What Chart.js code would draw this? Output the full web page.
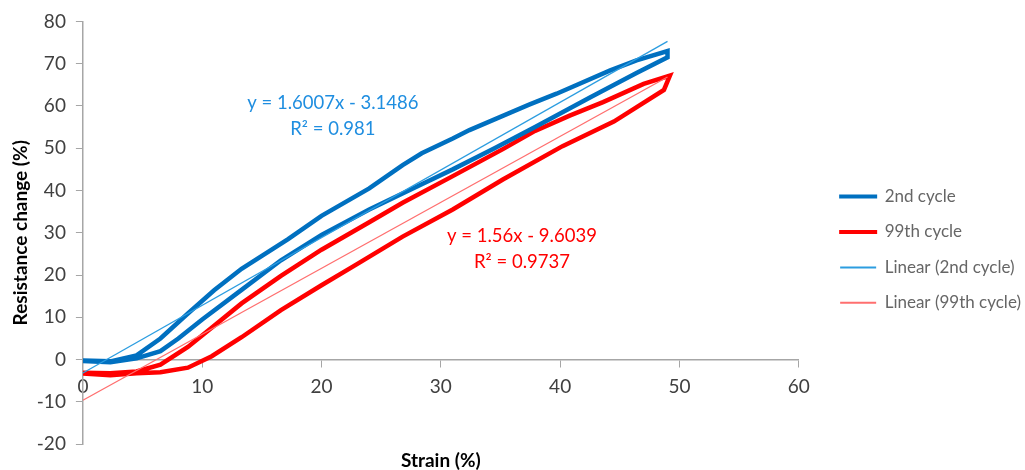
<!DOCTYPE html>
<html>
<head>
<meta charset="utf-8">
<script src="https://cdn.jsdelivr.net/npm/chart.js@4"></script>
<style>
  html, body { margin: 0; padding: 0; background: #fff; }
  #wrap { width: 1025px; height: 470px; }
</style>
</head>
<body>
<div id="wrap"><canvas id="myChart" width="1025" height="470"></canvas></div>
<script>
// 2nd cycle, loading branch then unloading branch (strain %, resistance change %)
const cycle2X = [0, 2.3, 4.5, 6.5, 8, 10, 13.3, 16.6, 20, 24, 28.4, 31, 34.5, 37.9, 42.5, 46.4, 49,
                 49, 46.4, 44.2, 39.7, 37.4, 32.4, 31, 28.4, 26.8, 24, 20, 17.2, 13.3, 11, 8.8, 6.5, 4.5, 2.3, 0];
const cycle2Y = [-0.3, -0.6, 0.3, 2, 5, 9.5, 16.5, 23.5, 29.5, 35.5, 41.5, 45, 50, 55, 62, 67.8, 71.5,
                 73, 70.8, 68.4, 62.9, 60.3, 54.3, 52.3, 48.8, 46, 40.5, 34, 28.5, 21.5, 16.4, 10.9, 5, 1, -0.4, -0.2];

// 99th cycle
const cycle99X = [0, 2.3, 4.5, 6.5, 8.8, 10.8, 13.3, 16.6, 20, 22.8, 26.8, 31, 35.2, 40.2, 44.5, 48.7, 49.2,
                  47, 43.6, 40.8, 37.9, 35.2, 31, 26.8, 24, 20, 16.6, 13.3, 11, 8.8, 6.5, 4.5, 2.3, 0];
const cycle99Y = [-3.3, -3.7, -3.2, -3, -1.9, 0.8, 5.3, 11.7, 17.6, 22.3, 29.1, 35.5, 42.6, 50.5, 56.3, 63.8, 67.2,
                  65.2, 60.9, 57.7, 54.1, 49.8, 43.4, 37.1, 32.5, 26, 19.8, 13.3, 8, 3, -1.2, -2.8, -3.2, -3.1];

// trendline end points (as drawn)
const trend2X = [0, 49];
const trend2Y = [-3.15, 75.29];
const trend99X = [0, 49];
const trend99Y = [-9.6, 66.84];

const seriesNames = ["2nd cycle", "99th cycle", "Linear (2nd cycle)", "Linear (99th cycle)"];
const eq2Text = ["y = 1.6007x - 3.1486", "R\u00b2 = 0.981"];
const eq99Text = ["y = 1.56x - 9.6039", "R\u00b2 = 0.9737"];

const xTicks = [0, 10, 20, 30, 40, 50, 60];
const yTicks = [-20, -10, 0, 10, 20, 30, 40, 50, 60, 70, 80];

function toPoints(xs, ys) {
    return xs.map((x, i) => ({x: x, y: ys[i]}));
}

const FONT = "Lato, 'Open Sans', sans-serif";

const equationLabels = {
    id: "equationLabels",
    afterDatasetsDraw(chart) {
        const ctx = chart.ctx;
        const xs = chart.scales.x;
        const ys = chart.scales.y;
        const blocks = [
            {lines: eq2Text, x: 20.95, y: 60.8, color: "#1f8ee0"},
            {lines: eq99Text, x: 36.8, y: 29.3, color: "#ff0000"}
        ];
        ctx.save();
        ctx.font = "18.5px " + FONT;
        ctx.textAlign = "center";
        ctx.textBaseline = "middle";
        blocks.forEach(b => {
            const px = xs.getPixelForValue(b.x);
            const py = ys.getPixelForValue(b.y);
            ctx.fillStyle = b.color;
            ctx.fillText(b.lines[0], px, py);
            ctx.fillText(b.lines[1], px, py + 26);
        });
        ctx.restore();
    }
};

new Chart("myChart", {
    type: "scatter",
    data: {
        datasets: [{
            label: seriesNames[0],
            data: toPoints(cycle2X, cycle2Y),
            borderColor: "#0070c0",
            backgroundColor: "#0070c0",
            borderWidth: 4.5,
            showLine: true,
            pointRadius: 0,
            fill: false,
            order: 3
        },{
            label: seriesNames[1],
            data: toPoints(cycle99X, cycle99Y),
            borderColor: "#ff0000",
            backgroundColor: "#ff0000",
            borderWidth: 4.5,
            showLine: true,
            pointRadius: 0,
            fill: false,
            order: 4
        },{
            label: seriesNames[2],
            data: toPoints(trend2X, trend2Y),
            borderColor: "#2c9de0",
            backgroundColor: "#2c9de0",
            borderWidth: 1.3,
            showLine: true,
            pointRadius: 0,
            fill: false,
            order: 1
        },{
            label: seriesNames[3],
            data: toPoints(trend99X, trend99Y),
            borderColor: "#ff6f6f",
            backgroundColor: "#ff6f6f",
            borderWidth: 1.3,
            showLine: true,
            pointRadius: 0,
            fill: false,
            order: 2
        }]
    },
    options: {
        responsive: false,
        animation: false,
        layout: {padding: {top: 21, left: 8, right: -6, bottom: 0}},
        scales: {
            x: {
                type: "linear",
                min: 0, max: 60,
                position: {y: 0},
                afterBuildTicks: (s) => { s.ticks = xTicks.map(v => ({value: v})); },
                grid: {drawOnChartArea: false, tickLength: 7, color: "#a6a6a6"},
                border: {color: "#a6a6a6", width: 1.5},
                ticks: {color: "#404040", font: {family: FONT, size: 19}, padding: 9, maxRotation: 0}
            },
            xTitle: {
                type: "linear",
                axis: "x",
                position: "bottom",
                min: 0, max: 60,
                grid: {display: false},
                border: {display: false},
                ticks: {display: false},
                title: {display: true, text: "Strain (%)", color: "#000",
                        font: {family: FONT, size: 19, weight: "bold"}, padding: {top: -3, bottom: -2}}
            },
            y: {
                type: "linear",
                min: -20, max: 80,
                afterBuildTicks: (s) => { s.ticks = yTicks.map(v => ({value: v})); },
                grid: {drawOnChartArea: false, tickLength: 7, color: "#a6a6a6"},
                border: {color: "#a6a6a6", width: 1.5},
                ticks: {color: "#404040", font: {family: FONT, size: 19}, padding: 10},
                title: {display: true, text: "Resistance change (%)", color: "#000",
                        font: {family: FONT, size: 19, weight: "bold"}, padding: {top: 1, bottom: -5}}
            },
            ySpacer: {
                type: "linear",
                axis: "y",
                position: "right",
                display: true,
                grid: {display: false},
                border: {display: false},
                ticks: {display: false},
                afterFit: (s) => { s.width = 23; }
            }
        },
        plugins: {
            legend: {
                position: "right",
                maxWidth: 300,
                title: {display: true, text: " ", font: {size: 7}, padding: 0},
                labels: {
                    color: "#262626",
                    font: {family: FONT, size: 17},
                    boxWidth: 36,
                    boxHeight: 2,
                    padding: 18.4,
                    generateLabels: (chart) => chart.data.datasets.map((ds, i) => ({
                        text: ds.label,
                        fillStyle: ds.borderColor,
                        strokeStyle: ds.borderColor,
                        lineWidth: i < 2 ? 2 : 0,
                        datasetIndex: i,
                        hidden: false
                    }))
                }
            },
            tooltip: {enabled: false}
        }
    },
    plugins: [equationLabels]
});
</script>
</body>
</html>
